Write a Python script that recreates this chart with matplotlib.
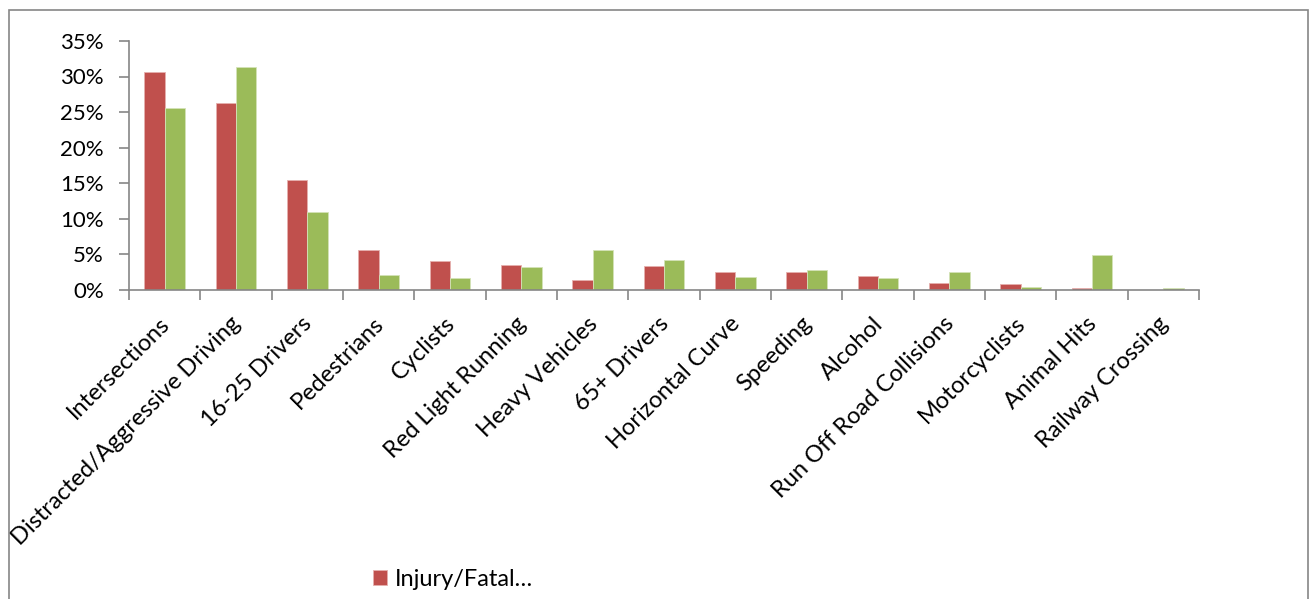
import numpy as np
import matplotlib
matplotlib.use("Agg")
from matplotlib import pyplot as plt
from matplotlib.patches import Rectangle
from matplotlib.ticker import FixedLocator, PercentFormatter
from matplotlib.transforms import ScaledTranslation

categories = [
    "Intersections", "Distracted/Aggressive Driving", "16-25 Drivers", "Pedestrians",
    "Cyclists", "Red Light Running", "Heavy Vehicles", "65+ Drivers", "Horizontal Curve",
    "Speeding", "Alcohol", "Run Off Road Collisions", "Motorcyclists", "Animal Hits",
    "Railway Crossing",
]
injury_fatal = [30.7, 26.3, 15.4, 5.5, 3.95, 3.4, 1.3, 3.25, 2.5, 2.45, 1.9, 0.87, 0.73, 0.2, 0.0]
other = [25.5, 31.4, 10.95, 2.0, 1.55, 3.15, 5.55, 4.2, 1.7, 2.75, 1.6, 2.4, 0.35, 4.8, 0.2]
yticks = [0, 5, 10, 15, 20, 25, 30, 35]

RED = "#C0504D"
GREEN = "#9BBB59"
AXIS = "#868686"

plt.rcParams["font.family"] = ["Lato", "DejaVu Sans"]

fig = plt.figure(figsize=(13.13, 5.99), dpi=100)
ax = fig.add_axes([129 / 1313, 1 - 289.5 / 599, (1199 - 129) / 1313, (289.5 - 41) / 599])

x = np.arange(len(categories))
w = 0.285
ax.bar(x - w / 2, injury_fatal, w, color=RED, edgecolor="#E6B0AE", linewidth=0.6, label="Injury/Fatal…")
ax.bar(x + w / 2, other, w, color=GREEN, edgecolor="#D4E3B8", linewidth=0.6)

ax.set_xlim(-0.5, len(categories) - 0.5)
ax.set_ylim(0, 35)
ax.yaxis.set_major_locator(FixedLocator(yticks))
ax.yaxis.set_major_formatter(PercentFormatter(decimals=0))

# category labels centred, tick marks on the boundaries
ax.set_xticks(x)
ax.set_xticklabels(categories, rotation=45, ha="right", va="top", rotation_mode="anchor", fontsize=17)
ax.tick_params(axis="x", which="major", length=0, pad=17)
shift = ScaledTranslation(-6 / 100, 0, fig.dpi_scale_trans)
for lbl in ax.get_xticklabels():
    lbl.set_transform(lbl.get_transform() + shift)
ax.set_xticks(np.arange(len(categories) + 1) - 0.5, minor=True)
ax.tick_params(axis="x", which="minor", length=7, width=1.2, color=AXIS)
ax.tick_params(axis="y", length=7, width=1.2, color=AXIS, labelsize=16, pad=11)

for side in ("top", "right"):
    ax.spines[side].set_visible(False)
for side in ("left", "bottom"):
    ax.spines[side].set_color(AXIS)
    ax.spines[side].set_linewidth(1.2)

fig.legend(loc="center left", bbox_to_anchor=(352 / 1313, 1 - 579 / 599), frameon=False,
           fontsize=17, handlelength=0.6, handleheight=0.6, handletextpad=0.3)

# chart frame
fig.patches.append(Rectangle((9 / 1313, -0.05), (1308 - 9) / 1313, 1.05 - 10 / 599,
                             transform=fig.transFigure, fill=False, edgecolor=AXIS, linewidth=1.2))

fig.savefig("out.png", dpi=100)
